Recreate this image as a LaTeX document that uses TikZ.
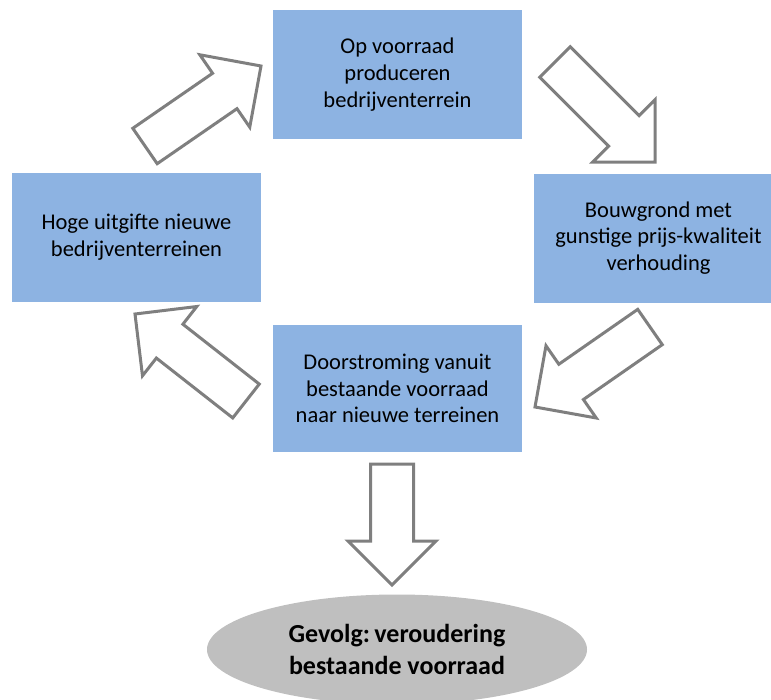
\documentclass[tikz,border=0pt]{standalone}
\usepackage{fontspec}
\setmainfont{Carlito}
\usetikzlibrary{calc,shapes.geometric}

\definecolor{boxblue}{HTML}{8DB3E2}
\definecolor{arrowgray}{HTML}{7F7F7F}
\definecolor{resultgray}{HTML}{BFBFBF}

\begin{document}
\begin{tikzpicture}[x=1pt, y=-1pt,
  box/.style={fill=boxblue, minimum width=249pt, minimum height=129pt, inner sep=0pt,
    align=center, font=\fontsize{22.5}{26.8}\selectfont},
  blockarrow/.style={draw=arrowgray, fill=white, line width=3pt},
  result/.style={ellipse, fill=resultgray, minimum width=380pt, minimum height=110pt,
    inner sep=0pt, align=center, font=\fontsize{26}{31.5}\selectfont\bfseries}]

\newcommand\SHAFT{21.5pt}
\newcommand\HEAD{44pt}

%% block arrow from tail #1 to tip #2
\newcommand\BlockArrow[2]{%
  \coordinate (#2-base) at ($(#2)!\HEAD!(#1)$);
  \draw[blockarrow] ($(#1)!\SHAFT!90:(#2)$) -- ($(#2-base)!\SHAFT!90:(#2)$)
    -- ($(#2-base)!\HEAD!90:(#2)$) -- (#2) -- ($(#2-base)!\HEAD!-90:(#2)$)
    -- ($(#2-base)!\SHAFT!-90:(#2)$) -- ($(#1)!\SHAFT!-90:(#2)$) -- cycle;
}

\useasboundingbox (0,0) rectangle (771,699);

%% boxes
\node[box] (produce) at (397.5, 74.5) {Op voorraad\\produceren\\bedrijventerrein};
\node[box] (uitgifte) at (136.5, 237.5) {Hoge uitgifte nieuwe\\bedrijventerreinen};
\node[box] (bouwgrond) at (658.5, 238) {Bouwgrond met\\gunstige prijs-kwaliteit\\verhouding};
\node[box, minimum height=127pt] (doorstroming) at (397.5, 388.5) {Doorstroming vanuit\\bestaande voorraad\\naar nieuwe terreinen};

\node[result] (gevolg) at (397, 649.5) {Gevolg:\,veroudering\\bestaande voorraad};

%% arrows
\coordinate (ul-tail) at (145, 146);
\coordinate (ul-tip) at (261, 66);
\coordinate (ur-tail) at (555, 62);
\coordinate (ur-tip) at (655, 162);
\coordinate (lr-tail) at (650, 327);
\coordinate (lr-tip) at (535, 407);
\coordinate (ll-tail) at (246, 401);
\coordinate (ll-tip) at (135, 314);
\coordinate (down-tail) at (392, 464);
\coordinate (down-tip) at (392, 585);

\BlockArrow{ul-tail}{ul-tip}
\BlockArrow{ur-tail}{ur-tip}
\BlockArrow{lr-tail}{lr-tip}
\BlockArrow{ll-tail}{ll-tip}
\BlockArrow{down-tail}{down-tip}

\end{tikzpicture}
\end{document}
